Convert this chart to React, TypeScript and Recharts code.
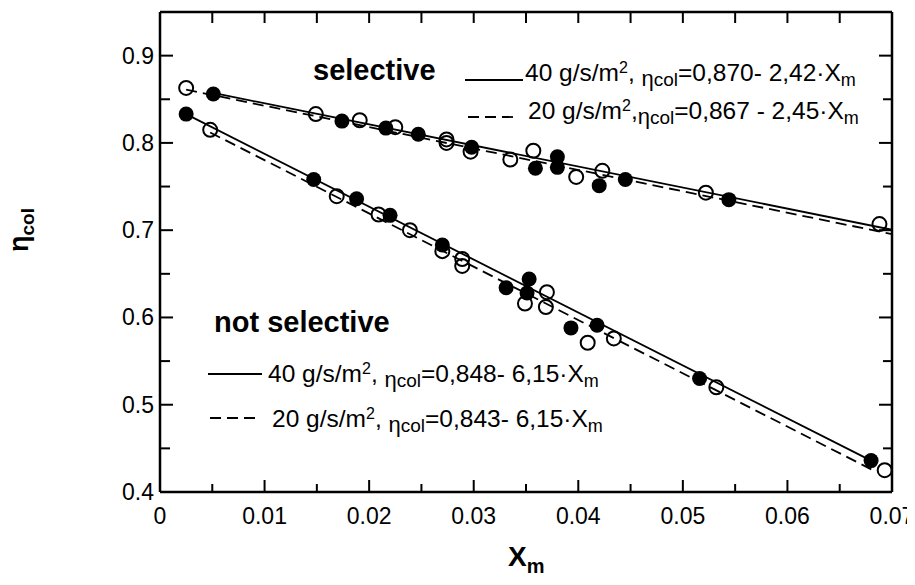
import React from 'react'
import { ScatterChart, Scatter, XAxis, YAxis } from 'recharts'

const FONT = '"Liberation Sans", Arial, Helvetica, sans-serif'

// axis ticks
const xMajor = [0, 0.01, 0.02, 0.03, 0.04, 0.05, 0.06, 0.07]
const xMinor = [0.005, 0.015, 0.025, 0.035, 0.045, 0.055, 0.065]
const xTop = [0.005, 0.01, 0.015, 0.02, 0.025, 0.03, 0.035, 0.04, 0.045, 0.05, 0.055, 0.06, 0.065]
const yMajor = [0.4, 0.5, 0.6, 0.7, 0.8, 0.9]
const yMinor = [0.45, 0.55, 0.65, 0.75, 0.85]

// selective, 40 g/s/m2 (filled)
const sel40X = [0.0051, 0.0174, 0.0216, 0.0247, 0.0298, 0.0359, 0.038, 0.038, 0.042, 0.0445, 0.0544]
const sel40Y = [0.856, 0.825, 0.817, 0.81, 0.795, 0.771, 0.784, 0.772, 0.751, 0.758, 0.735]
// selective, 20 g/s/m2 (open)
const sel20X = [0.0025, 0.0149, 0.0191, 0.0225, 0.0274, 0.0274, 0.0297, 0.0335, 0.0357, 0.0398, 0.0423, 0.0522, 0.0688]
const sel20Y = [0.863, 0.833, 0.826, 0.818, 0.804, 0.8, 0.79, 0.781, 0.791, 0.761, 0.768, 0.743, 0.707]
// not selective, 40 g/s/m2 (filled)
const ns40X = [0.0025, 0.0147, 0.0188, 0.022, 0.027, 0.0331, 0.0351, 0.0353, 0.0393, 0.0418, 0.0516, 0.068]
const ns40Y = [0.833, 0.758, 0.736, 0.717, 0.683, 0.634, 0.628, 0.644, 0.588, 0.591, 0.53, 0.436]
// not selective, 20 g/s/m2 (open)
const ns20X = [0.0048, 0.0169, 0.0209, 0.0239, 0.027, 0.0289, 0.0289, 0.0349, 0.037, 0.0369, 0.0409, 0.0434, 0.0532, 0.0693]
const ns20Y = [0.815, 0.739, 0.718, 0.7, 0.676, 0.667, 0.659, 0.616, 0.629, 0.612, 0.571, 0.576, 0.52, 0.425]

// fitted lines (end points)
const fitSel40X = [0.0052, 0.07]
const fitSel40Y = [0.857, 0.7005]
const fitSel20X = [0.0025, 0.07]
const fitSel20Y = [0.861, 0.6955]
const fitNs40X = [0.0025, 0.068]
const fitNs40Y = [0.833, 0.436]
const fitNs20X = [0.0048, 0.0685]
const fitNs20Y = [0.812, 0.423]

const pts = (xs: number[], ys: number[]) => xs.map((x, i) => ({ x, y: ys[i] }))

const DASH = '11 6'
const X_DOMAIN: [number, number] = [0, 0.07]
const Y_DOMAIN: [number, number] = [0.4, 0.95]
const frame = { stroke: '#000', strokeWidth: 2.5 }
const tickStroke = { stroke: '#000', strokeWidth: 2 }

const BottomLabel = (props: any) => {
  const { x, y, payload } = props
  const v = payload.value
  return (
    <text x={x} y={y + 32} textAnchor="middle" fontSize={23} fontFamily={FONT} fill="#000">
      {v === 0 ? '0' : v.toFixed(2)}
    </text>
  )
}

const LeftLabel = (props: any) => {
  const { x, y, payload } = props
  return (
    <text x={x - 6} y={y + 8} textAnchor="end" fontSize={23} fontFamily={FONT} fill="#000">
      {payload.value.toFixed(1)}
    </text>
  )
}

// tick marks only, no text
const NoLabel = () => <g />

const Filled = (props: any) => <circle cx={props.cx} cy={props.cy} r={7.5} fill="#000" />
const Open = (props: any) => (
  <circle cx={props.cx} cy={props.cy} r={7} fill="none" stroke="#000" strokeWidth={2} />
)
const NoDot = () => <g />

// one legend line: "40 g/s/m², ηcol=0,870- 2,42·Xm"
const EqText = ({ x, y, lead, sep, rest }: { x: number; y: number; lead: string; sep: string; rest: string }) => (
  <text x={x} y={y} fontSize={24.5} fontFamily={FONT} fill="#000">
    {lead}
    <tspan fontSize={16} dy={-8}>2</tspan>
    <tspan fontSize={24.5} dy={8}>{sep}</tspan>
    <tspan fontSize={22} dy={5}>η</tspan>
    <tspan fontSize={19}>col</tspan>
    <tspan fontSize={24.5} dy={-5}>{rest}</tspan>
    <tspan fontSize={18} dy={5}>m</tspan>
  </text>
)

// tick-only axes, mirrored so the ticks point into the frame
const tickAxisX = (id: string, orientation: 'top' | 'bottom', ticks: number[], size: number, line: boolean) => (
  <XAxis
    key={id}
    xAxisId={id}
    orientation={orientation}
    mirror
    type="number"
    dataKey="x"
    domain={X_DOMAIN}
    ticks={ticks}
    interval={0}
    tick={<NoLabel />}
    tickLine={tickStroke}
    tickSize={size}
    axisLine={line ? frame : false}
    height={1}
    allowDataOverflow
  />
)
const tickAxisY = (id: string, orientation: 'left' | 'right', ticks: number[], size: number, line: boolean) => (
  <YAxis
    key={id}
    yAxisId={id}
    orientation={orientation}
    mirror
    type="number"
    dataKey="y"
    domain={Y_DOMAIN}
    ticks={ticks}
    interval={0}
    tick={<NoLabel />}
    tickLine={tickStroke}
    tickSize={size}
    axisLine={line ? frame : false}
    width={1}
    allowDataOverflow
  />
)

export default function App() {
  return (
    <div style={{ position: 'relative', margin: -8, width: 915, height: 585, background: '#fff' }}>
      <ScatterChart width={915} height={585} margin={{ top: 12, right: 23, bottom: 53, left: 100 }}>
        {/* label axes */}
        <XAxis
          xAxisId="b"
          type="number"
          dataKey="x"
          domain={X_DOMAIN}
          ticks={xMajor}
          interval={0}
          tick={<BottomLabel />}
          tickLine={false}
          tickSize={0}
          tickMargin={0}
          axisLine={false}
          height={40}
          allowDataOverflow
        />
        <YAxis
          yAxisId="l"
          type="number"
          dataKey="y"
          domain={Y_DOMAIN}
          ticks={yMajor}
          interval={0}
          tick={<LeftLabel />}
          tickLine={false}
          tickSize={0}
          tickMargin={0}
          axisLine={false}
          width={60}
          allowDataOverflow
        />
        {/* frame and inward ticks */}
        {tickAxisX('bM', 'bottom', xMajor, 12, true)}
        {tickAxisX('bm', 'bottom', xMinor, 7, false)}
        {tickAxisX('t', 'top', xTop, 11, true)}
        {tickAxisY('lM', 'left', yMajor, 13, true)}
        {tickAxisY('lm', 'left', yMinor, 9, false)}
        {tickAxisY('r', 'right', yMajor, 13, true)}
        {tickAxisY('rm', 'right', yMinor, 8, false)}

        <Scatter xAxisId="t" yAxisId="r" data={pts(fitSel40X, fitSel40Y)} shape={<NoDot />}
          line={{ stroke: '#000', strokeWidth: 1.8 }} isAnimationActive={false} />
        <Scatter xAxisId="bM" yAxisId="rm" data={pts(fitSel20X, fitSel20Y)} shape={<NoDot />}
          line={{ stroke: '#000', strokeWidth: 1.8, strokeDasharray: DASH }} isAnimationActive={false} />
        <Scatter xAxisId="bm" yAxisId="lM" data={pts(fitNs40X, fitNs40Y)} shape={<NoDot />}
          line={{ stroke: '#000', strokeWidth: 1.8 }} isAnimationActive={false} />
        <Scatter xAxisId="t" yAxisId="lm" data={pts(fitNs20X, fitNs20Y)} shape={<NoDot />}
          line={{ stroke: '#000', strokeWidth: 1.8, strokeDasharray: DASH }} isAnimationActive={false} />

        <Scatter xAxisId="b" yAxisId="l" data={pts(sel20X, sel20Y)} shape={<Open />} isAnimationActive={false} />
        <Scatter xAxisId="b" yAxisId="l" data={pts(ns20X, ns20Y)} shape={<Open />} isAnimationActive={false} />
        <Scatter xAxisId="b" yAxisId="l" data={pts(sel40X, sel40Y)} shape={<Filled />} isAnimationActive={false} />
        <Scatter xAxisId="b" yAxisId="l" data={pts(ns40X, ns40Y)} shape={<Filled />} isAnimationActive={false} />
      </ScatterChart>

      <svg width={915} height={585} style={{ position: 'absolute', left: 0, top: 0, pointerEvents: 'none' }}>
        {/* axis titles */}
        <g transform="translate(28, 252) rotate(-90)">
          <text x={0} y={0} fontSize={27} fontWeight="bold" fontFamily={FONT} fill="#000">
            η<tspan fontSize={19} dy={6}>col</tspan>
          </text>
        </g>
        <text x={508} y={566} fontSize={28} fontWeight="bold" fontFamily={FONT} fill="#000">
          X<tspan fontSize={20} dy={7}>m</tspan>
        </text>

        {/* selective */}
        <text x={313} y={80} fontSize={29} fontWeight="bold" fontFamily={FONT} fill="#000">selective</text>
        <line x1={465} x2={523} y1={80} y2={80} stroke="#000" strokeWidth={1.8} />
        <EqText x={525} y={81} lead="40 g/s/m" sep=", " rest="=0,870- 2,42·X" />
        <line x1={468} x2={518} y1={117} y2={117} stroke="#000" strokeWidth={1.8} strokeDasharray={DASH} />
        <EqText x={528} y={119} lead="20 g/s/m" sep="," rest="=0,867 - 2,45·X" />

        {/* not selective */}
        <text x={214} y={332} fontSize={29} fontWeight="bold" fontFamily={FONT} fill="#000">not selective</text>
        <line x1={208} x2={262} y1={374} y2={374} stroke="#000" strokeWidth={1.8} />
        <EqText x={268} y={382} lead="40 g/s/m" sep=", " rest="=0,848- 6,15·X" />
        <line x1={210} x2={260} y1={418} y2={418} stroke="#000" strokeWidth={1.8} strokeDasharray={DASH} />
        <EqText x={272} y={427} lead="20 g/s/m" sep=", " rest="=0,843- 6,15·X" />
      </svg>
    </div>
  )
}
